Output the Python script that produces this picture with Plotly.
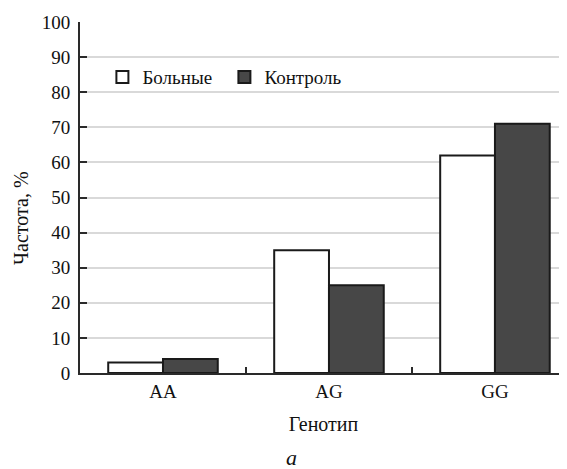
import plotly.graph_objects as go

categories = ["AA", "AG", "GG"]
patients = [3, 35, 62]
controls = [4, 25, 71]
series_names = ["Больные", "Контроль"]

font_family = "Liberation Serif, Times New Roman, serif"

fig = go.Figure()
fig.add_trace(go.Bar(
    x=categories, y=patients, name=series_names[0],
    marker=dict(color="white", line=dict(color="#1a1a1a", width=2)),
))
fig.add_trace(go.Bar(
    x=categories, y=controls, name=series_names[1],
    marker=dict(color="#474747", line=dict(color="#1a1a1a", width=2)),
))

fig.update_layout(
    width=559, height=469,
    margin=dict(l=72, r=0, t=14, b=104),
    paper_bgcolor="white", plot_bgcolor="white",
    barmode="group", bargap=0.34, bargroupgap=0,
    font=dict(family=font_family, size=19, color="#111"),
    showlegend=True,
    legend=dict(
        orientation="h", x=0.046, y=0.843, xanchor="left", yanchor="middle",
        bgcolor="rgba(0,0,0,0)", font=dict(size=19, family=font_family),
        entrywidth=77, entrywidthmode="pixels", itemwidth=30,
        traceorder="normal",
    ),
    xaxis=dict(
        type="category", range=[-0.5, 2.434],
        showline=True, linecolor="#2a2a2a", linewidth=2,
        ticks="inside", tickson="boundaries", ticklen=6, tickwidth=2, tickcolor="#2a2a2a",
        showgrid=False,
        tickfont=dict(size=19, family=font_family),
        title=dict(text="Генотип", font=dict(size=20, family=font_family), standoff=16),
    ),
    yaxis=dict(
        range=[0, 100], dtick=10,
        showline=True, linecolor="#2a2a2a", linewidth=2,
        ticks="inside", ticklen=7, tickwidth=2, tickcolor="#2a2a2a",
        showgrid=True, gridcolor="#d9d9d9", gridwidth=1.5,
        zeroline=False,
        tickfont=dict(size=19, family=font_family),
        ticklabelstandoff=4,
    ),
    annotations=[
        dict(
            text="Частота, %", xref="paper", yref="paper", x=-0.121, y=0.442,
            textangle=-90, showarrow=False,
            font=dict(size=20, family=font_family, color="#111"),
            xanchor="center", yanchor="middle",
        ),
        dict(
            text="<i>a</i>", xref="paper", yref="paper", x=0.435, y=-0.242,
            showarrow=False, font=dict(size=22, family=font_family, color="#111"),
            xanchor="center", yanchor="middle",
        ),
    ],
)

fig.write_html("out.html")
